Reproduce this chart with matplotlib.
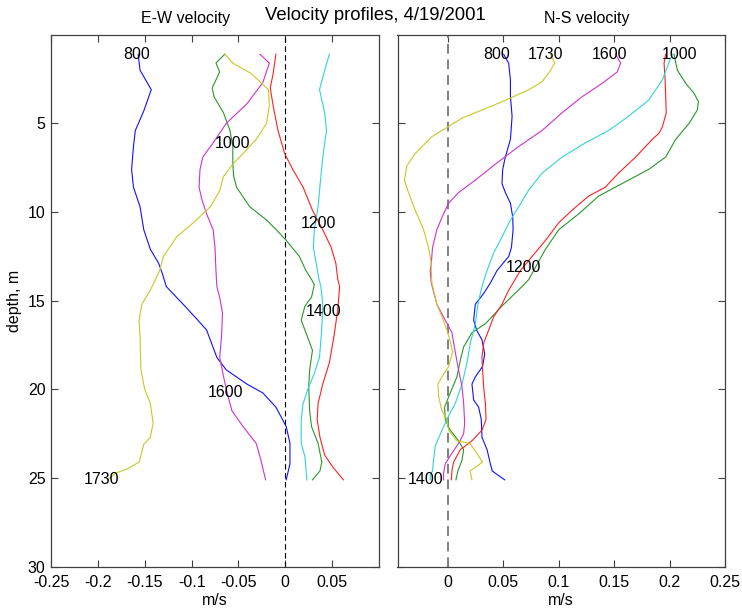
import matplotlib
matplotlib.use("Agg")
import matplotlib.pyplot as plt
import numpy as np

plt.rcParams['font.family'] = ['Liberation Sans', 'DejaVu Sans']
FS = 11.5

# ---------------- E-W velocity (left panel) ----------------
ew_800_d = [1.1, 2.0, 3.1, 4.3, 5.4, 6.3, 7.6, 8.6, 9.7, 11.0, 12.1, 12.9, 13.5, 14.2, 15.2, 16.0,
            16.65, 18.2, 18.9, 19.7, 20.2, 21.0, 22.1, 23.05, 24.2, 25.1]
ew_800_v = [-0.157, -0.155, -0.143, -0.151, -0.160, -0.162, -0.164, -0.162, -0.155, -0.151, -0.144,
            -0.135, -0.131, -0.127, -0.109, -0.095, -0.084, -0.073, -0.063, -0.041, -0.024, -0.010,
            0.001, 0.005, 0.005, 0.001]

ew_1000_d = [1.1, 1.6, 2.1, 3.0, 3.5, 4.4, 5.4, 6.3, 7.3, 8.0, 8.6, 9.7, 10.45, 11.0, 11.6, 12.5,
             13.3, 13.8, 14.1, 14.8, 15.3, 16.1, 16.8, 17.8, 18.9, 19.85, 21.2, 22.1, 23.05, 24.1,
             24.6, 25.1]
ew_1000_v = [-0.0645, -0.074, -0.070, -0.078, -0.076, -0.066, -0.059, -0.056, -0.056, -0.055, -0.052,
             -0.038, -0.020, -0.0096, 0.001, 0.015, 0.022, 0.028, 0.031, 0.028, 0.021, 0.017, 0.022,
             0.029, 0.026, 0.025, 0.026, 0.028, 0.035, 0.039, 0.037, 0.029]

ew_1200_d = [1.1, 2.2, 3.0, 4.0, 5.4, 6.7, 7.6, 8.6, 9.9, 11.0, 12.0, 12.9, 13.8, 14.2, 15.5, 17.0,
             18.5, 19.7, 20.8, 21.7, 22.7, 23.7, 24.4, 25.1]
ew_1200_v = [-0.010, -0.013, -0.016, -0.013, -0.0078, -0.0007, 0.008, 0.019, 0.029, 0.040, 0.049,
             0.054, 0.056, 0.058, 0.056, 0.052, 0.047, 0.040, 0.035, 0.034, 0.037, 0.042, 0.051, 0.062]

ew_1400_d = [1.1, 2.4, 3.1, 4.4, 5.4, 6.9, 8.2, 9.7, 11.0, 12.0, 12.9, 13.8, 14.2, 15.2, 16.5, 18.2,
             19.1, 20.0, 20.8, 21.7, 23.05, 23.8, 25.1]
ew_1400_v = [0.047, 0.040, 0.0365, 0.042, 0.044, 0.040, 0.0376, 0.035, 0.031, 0.030, 0.033, 0.036,
             0.038, 0.040, 0.039, 0.0365, 0.031, 0.024, 0.019, 0.017, 0.017, 0.021, 0.023]

ew_1600_d = [1.1, 1.6, 2.7, 3.9, 5.0, 6.1, 6.9, 7.6, 8.6, 9.3, 10.1, 11.0, 12.0, 13.3, 14.2, 14.8,
             15.7, 17.0, 18.2, 19.5, 20.4, 21.2, 22.1, 23.05, 24.0, 25.1]
ew_1600_v = [-0.027, -0.017, -0.024, -0.041, -0.063, -0.077, -0.088, -0.091, -0.092, -0.089, -0.084,
             -0.077, -0.075, -0.074, -0.073, -0.070, -0.067, -0.068, -0.070, -0.065, -0.061, -0.057,
             -0.045, -0.031, -0.026, -0.021]

ew_1730_d = [1.1, 1.6, 2.2, 2.65, 3.1, 4.0, 5.0, 5.9, 6.7, 7.3, 8.0, 8.8, 9.7, 10.6, 11.4, 12.5,
             13.3, 14.4, 15.2, 16.1, 17.0, 18.9, 20.0, 20.8, 21.9, 22.7, 23.1, 24.1, 24.5, 24.7, 25.1]
ew_1730_v = [-0.0645, -0.056, -0.036, -0.027, -0.018, -0.017, -0.020, -0.031, -0.045, -0.056, -0.066,
             -0.070, -0.080, -0.098, -0.116, -0.130, -0.134, -0.144, -0.153, -0.156, -0.155, -0.154,
             -0.150, -0.144, -0.141, -0.144, -0.151, -0.156, -0.169, -0.180, -0.190]

# ---------------- N-S velocity (right panel) ----------------
ns_800_d = [1.1, 1.6, 2.55, 3.5, 4.6, 5.9, 6.9, 7.6, 8.4, 8.9, 9.5, 10.3, 11.0, 12.0, 12.5, 13.3,
            14.0, 14.6, 15.2, 16.1, 16.7, 17.2, 18.0, 18.7, 19.3, 19.7, 20.6, 21.0, 21.7, 22.7,
            23.4, 24.2, 24.6, 24.8, 25.1]
ns_800_v = [0.0503, 0.0548, 0.0564, 0.0564, 0.0579, 0.0564, 0.0518, 0.0494, 0.0488, 0.0518, 0.0564,
            0.0585, 0.0588, 0.0573, 0.0549, 0.0443, 0.0383, 0.0322, 0.0247, 0.0232, 0.0262, 0.0307,
            0.0332, 0.0313, 0.0247, 0.0217, 0.0232, 0.0277, 0.0301, 0.0307, 0.0353, 0.0383, 0.040,
            0.0443, 0.0512]

ns_1000_d = [1.1, 2.0, 2.75, 3.3, 3.77, 4.25, 5.0, 5.9, 6.9, 7.6, 8.4, 9.1, 10.1, 11.0, 12.1, 13.0,
             13.8, 14.2, 15.3, 16.3, 16.8, 17.6, 18.35, 19.3, 20.2, 21.0, 21.7, 22.3, 22.9, 23.4,
             24.0, 24.6, 25.1]
ns_1000_v = [0.204, 0.207, 0.2146, 0.222, 0.226, 0.225, 0.2176, 0.2055, 0.1965, 0.181, 0.157, 0.136,
             0.118, 0.100, 0.088, 0.080, 0.073, 0.0669, 0.0488, 0.0338, 0.0217, 0.0142, 0.0112,
             0.0081, 0.0021, -0.003, -0.0024, 0.0021, 0.0096, 0.0142, 0.0127, 0.009, 0.0072]

ns_1200_d = [1.1, 1.6, 2.55, 3.5, 4.4, 5.2, 5.55, 5.9, 6.9, 7.8, 8.6, 9.1, 9.9, 10.6, 11.6, 12.5,
             13.3, 14.4, 15.2, 15.9, 16.65, 17.4, 18.2, 18.9, 19.85, 20.8, 21.7, 22.3, 22.9, 23.4,
             24.1, 24.6, 25.1]
ns_1200_v = [0.1965, 0.195, 0.196, 0.1965, 0.197, 0.1935, 0.1905, 0.1844, 0.1694, 0.154, 0.142,
             0.127, 0.112, 0.100, 0.088, 0.076, 0.0654, 0.0549, 0.0488, 0.0413, 0.0368, 0.0322,
             0.0307, 0.0313, 0.0322, 0.0338, 0.0344, 0.0307, 0.0217, 0.0112, 0.0051, 0.0036, 0.003]

ns_1400_d = [1.1, 1.8, 2.55, 3.7, 4.6, 5.4, 6.1, 6.9, 7.8, 8.75, 9.7, 10.45, 11.4, 12.3, 13.3, 14.2,
             15.2, 16.3, 17.4, 18.5, 19.7, 20.8, 21.5, 22.3, 23.2, 24.0, 24.6, 24.8, 25.1]
ns_1400_v = [0.2025, 0.198, 0.1935, 0.181, 0.163, 0.145, 0.124, 0.103, 0.085, 0.073, 0.0639, 0.0564,
             0.0488, 0.0413, 0.0353, 0.0307, 0.0271, 0.0247, 0.0202, 0.0172, 0.0127, 0.0066, 0.0006,
             -0.0054, -0.0115, -0.013, -0.0139, -0.016, -0.016]

ns_1600_d = [1.1, 1.6, 2.1, 2.75, 3.5, 4.4, 5.4, 6.3, 7.3, 8.2, 8.9, 9.5, 10.3, 11.0, 12.0, 12.9,
             13.3, 14.0, 15.2, 16.1, 16.8, 17.9, 18.9, 19.85, 20.8, 21.9, 22.5, 23.05, 23.6, 24.2,
             24.7, 25.1]
ns_1600_v = [0.1513, 0.1558, 0.1528, 0.139, 0.121, 0.103, 0.085, 0.0639, 0.0428, 0.0247, 0.0096,
             0.0006, -0.0054, -0.010, -0.0139, -0.015, -0.016, -0.015, -0.010, -0.0024, 0.0036,
             0.0066, 0.0096, 0.0127, 0.0142, 0.0151, 0.0142, 0.0096, 0.0036, -0.0024, -0.0039, -0.0039]

ns_1730_d = [1.1, 1.6, 2.1, 2.65, 3.1, 3.7, 4.25, 4.7, 5.2, 5.75, 6.7, 7.4, 8.2, 8.9, 9.9, 11.0, 12.0,
             12.9, 13.3, 14.0, 15.2, 15.9, 16.65, 17.3, 17.9, 18.7, 19.3, 19.7, 20.4, 21.2, 21.7,
             22.3, 22.9, 23.05, 23.6, 24.1, 24.6, 25.1]
ns_1730_v = [0.0925, 0.0964, 0.0916, 0.085, 0.073, 0.0518, 0.0307, 0.0127, 0.0, -0.0145, -0.0295,
             -0.0371, -0.0392, -0.0356, -0.0295, -0.022, -0.0175, -0.015, -0.015, -0.0145, -0.010,
             -0.0054, -0.0009, 0.0021, 0.0042, 0.0006, -0.0054, -0.009, -0.0084, -0.0054, -0.0009,
             0.0006, 0.0081, 0.020, 0.026, 0.0313, 0.020, 0.0217]

times = ['800', '1000', '1200', '1400', '1600', '1730']
colors = ['#1010FF', '#2A962A', '#FF2020', '#30D4D4', '#CC33CC', '#C8C828']

ew_series = [(ew_800_d, ew_800_v), (ew_1000_d, ew_1000_v), (ew_1200_d, ew_1200_v),
             (ew_1400_d, ew_1400_v), (ew_1600_d, ew_1600_v), (ew_1730_d, ew_1730_v)]
ns_series = [(ns_800_d, ns_800_v), (ns_1000_d, ns_1000_v), (ns_1200_d, ns_1200_v),
             (ns_1400_d, ns_1400_v), (ns_1600_d, ns_1600_v), (ns_1730_d, ns_1730_v)]

# label annotations (text, x, depth)
ew_labels = [('800', -0.1585, 1.1), ('1000', -0.0568, 6.13), ('1200', 0.0357, 10.64),
             ('1400', 0.0407, 15.6), ('1600', -0.0638, 20.15), ('1730', -0.1957, 25.1)]
ns_labels = [('800', 0.0443, 1.1), ('1730', 0.088, 1.1), ('1600', 0.146, 1.1),
             ('1000', 0.2086, 1.1), ('1200', 0.0684, 13.13), ('1400', -0.0199, 25.1)]

ew_xticks = [-0.25, -0.2, -0.15, -0.1, -0.05, 0, 0.05]
ew_xticklabels = ['-0.25', '-0.2', '-0.15', '-0.1', '-0.05', '0', '0.05']
ns_xticks = [0, 0.05, 0.1, 0.15, 0.2, 0.25]
ns_xticklabels = ['0', '0.05', '0.1', '0.15', '0.2', '0.25']
yticks = [5, 10, 15, 20, 25, 30]

W, H = 742, 613
fig = plt.figure(figsize=(W / 100, H / 100), dpi=100)
bot = 1 - 566.7 / H
hgt = 532.0 / H
axL = fig.add_axes([51 / W, bot, 328 / W, hgt])
axR = fig.add_axes([397.5 / W, bot, 327.5 / W, hgt])

spine_col = '#404040'
for ax in (axL, axR):
    ax.set_ylim(30, 0)
    ax.set_yticks(yticks)
    ax.tick_params(direction='in', length=5, width=0.8, colors=spine_col, labelcolor='black',
                   labelsize=FS, top=True, right=True, pad=6)
    for s in ax.spines.values():
        s.set_color(spine_col)
        s.set_linewidth(0.9)

axL.set_xlim(-0.25, 0.1)
axL.set_xticks(ew_xticks)
axL.set_xticklabels(ew_xticklabels)
axL.set_yticklabels([str(t) for t in yticks])
axR.set_xlim(-0.0455, 0.25)
axR.set_xticks(ns_xticks)
axR.set_xticklabels(ns_xticklabels)
axR.set_yticklabels([])
axL.tick_params(axis='y', pad=4)

axL.axvline(0, color='black', ls=(0, (5, 3)), lw=0.8)
axR.axvline(0, color='#808080', ls=(0, (5, 3)), lw=1.4)

for (d, v), c in zip(ew_series, colors):
    axL.plot(v, d, color=c, lw=0.8)
for (d, v), c in zip(ns_series, colors):
    axR.plot(v, d, color=c, lw=0.8)

for t, x, d in ew_labels:
    axL.text(x, d, t, ha='center', va='center', fontsize=FS)
for t, x, d in ns_labels:
    axR.text(x, d, t, ha='center', va='center', fontsize=FS)

fig.text(186 / W, 1 - 23.3 / H, 'E-W velocity', ha='center', va='baseline', fontsize=FS)
fig.text(375 / W, 1 - 20 / H, 'Velocity profiles, 4/19/2001', ha='center', va='baseline', fontsize=13.3)
fig.text(587 / W, 1 - 23.3 / H, 'N-S velocity', ha='center', va='baseline', fontsize=FS)
fig.text(215 / W, 1 - 605 / H, 'm/s', ha='center', va='baseline', fontsize=FS)
fig.text(561 / W, 1 - 605 / H, 'm/s', ha='center', va='baseline', fontsize=FS)
fig.text(15 / W, 1 - 300.7 / H, 'depth, m', ha='center', va='center', rotation=90, fontsize=FS)

fig.savefig('out.png', dpi=100, facecolor='white')
